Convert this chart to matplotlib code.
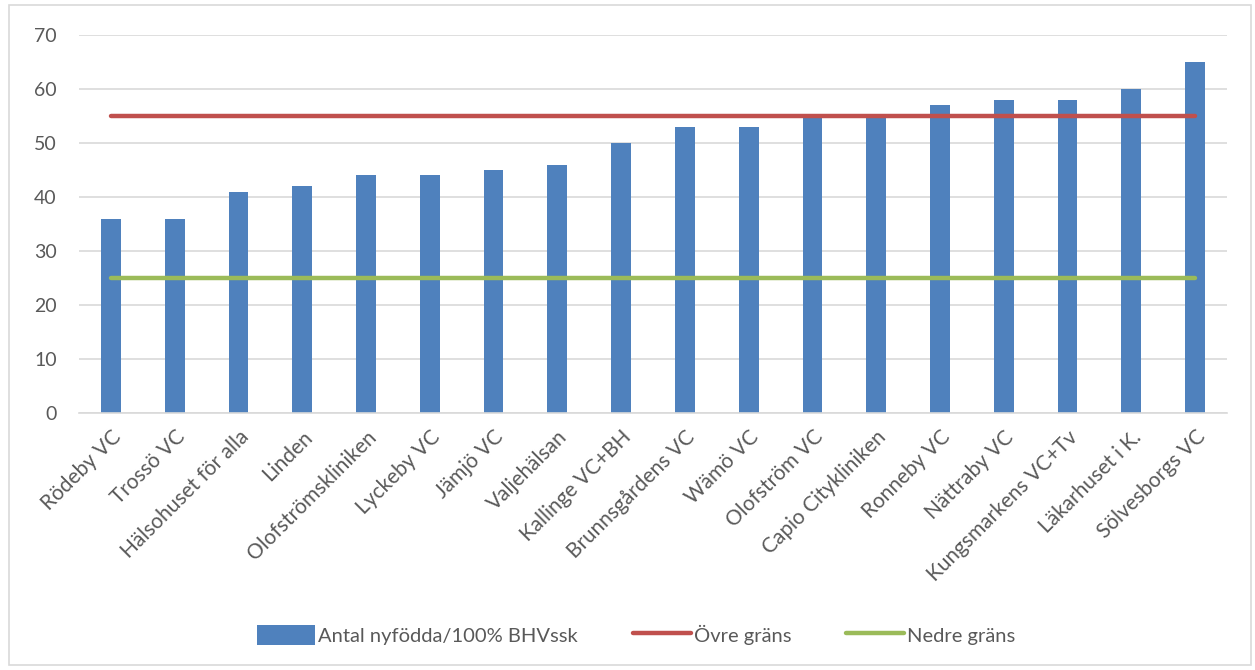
import numpy as np
import matplotlib.pyplot as plt
from matplotlib.patches import Rectangle

# Vårdcentraler och antal nyfödda per 100% BHV-sjuksköterska
enheter = ['Rödeby VC', 'Trossö VC', 'Hälsohuset för alla', 'Linden',
           'Olofströmskliniken', 'Lyckeby VC', 'Jämjö VC', 'Valjehälsan',
           'Kallinge VC+BH', 'Brunnsgårdens VC', 'Wämö VC', 'Olofström VC',
           'Capio Citykliniken', 'Ronneby VC', 'Nättraby VC',
           'Kungsmarkens VC+Tv', 'Läkarhuset i K.', 'Sölvesborgs VC']
antal = [36, 36, 41, 42, 44, 44, 45, 46, 50, 53, 53, 55, 55, 57, 58, 58, 60, 65]
ovre_grans = [55] * len(enheter)
nedre_grans = [25] * len(enheter)

plt.rcParams['font.family'] = ['Lato', 'DejaVu Sans']
textfarg = '#595959'

fig = plt.figure(figsize=(12.55, 6.7), dpi=100)
ax = fig.add_axes([0.063, 0.3836, 0.9147, 0.5642])

x = np.arange(len(enheter))
staplar = ax.bar(x, antal, width=0.31, color='#4F81BD', zorder=2,
                 label='Antal nyfödda/100% BHVssk')
ax.plot(x, ovre_grans, color='#C0504D', lw=3.2, solid_capstyle='round',
        zorder=3, label='Övre gräns')
ax.plot(x, nedre_grans, color='#9BBB59', lw=3.2, solid_capstyle='round',
        zorder=3, label='Nedre gräns')

ax.set_xlim(-0.5, len(enheter) - 0.5)
ax.set_ylim(0, 70)
ax.set_yticks(range(0, 71, 10))
ax.yaxis.grid(True, color='#d9d9d9', lw=1.2, zorder=0)
ax.set_axisbelow(True)
for s in ['top', 'right', 'left']:
    ax.spines[s].set_visible(False)
ax.spines['bottom'].set_color('#d9d9d9')
ax.spines['bottom'].set_linewidth(1.2)
ax.tick_params(axis='both', length=0, colors=textfarg, labelsize=14)
ax.tick_params(axis='y', pad=16)
ax.set_xticks(x)
ax.set_xticklabels(enheter, rotation=45, ha='right', va='top',
                   rotation_mode='anchor', fontsize=15, color=textfarg)
ax.tick_params(axis='x', pad=10)

handtag, etiketter = ax.get_legend_handles_labels()
ordning = [2, 0, 1]
fig.legend([handtag[i] for i in ordning], [etiketter[i] for i in ordning],
           loc='center', bbox_to_anchor=(0.507, 0.052), ncol=3, frameon=False,
           fontsize=14.5, labelcolor=textfarg, handlelength=2.9,
           handleheight=1.2, handletextpad=0.15, columnspacing=2.7)

# ram runt hela diagrammet
fig.add_artist(Rectangle((0.007, 0.007), 0.99, 0.986, transform=fig.transFigure,
                         fill=False, edgecolor='#d9d9d9', lw=1.2))

fig.savefig('out.png', dpi=100)
